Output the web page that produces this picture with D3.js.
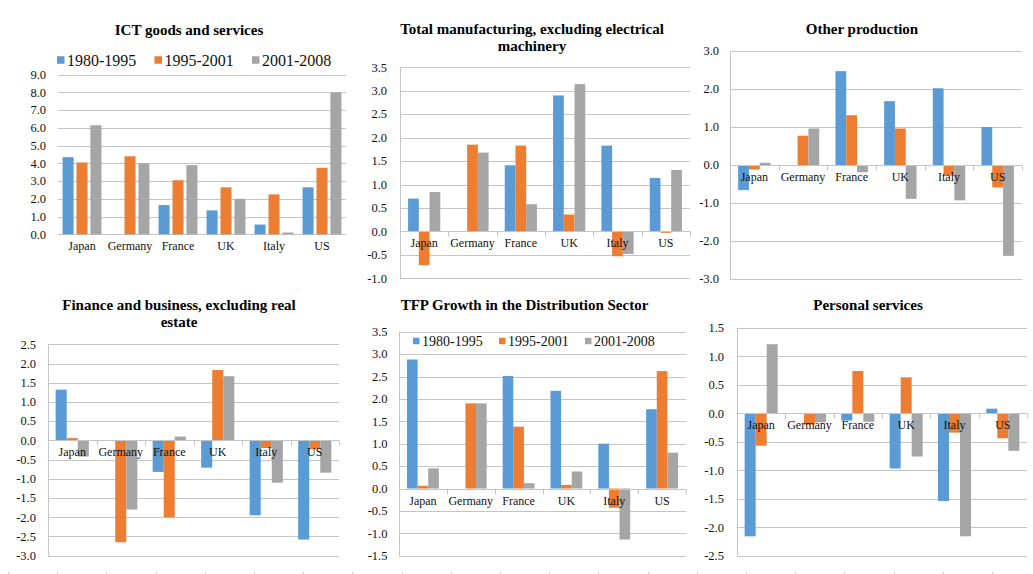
<!DOCTYPE html>
<html>
<head>
<meta charset="utf-8">
<script src="https://cdn.jsdelivr.net/npm/d3@7"></script>
<style>
  html, body { margin: 0; padding: 0; background: #fff; }
  svg { display: block; }
  svg text { font-family: "Liberation Serif", "DejaVu Serif", serif; }
</style>
</head>
<body>
<svg id="chart" width="1033" height="574" font-family="Liberation Serif, serif"></svg>
<script>
// ---- data -------------------------------------------------------------
const countries = ["Japan", "Germany", "France", "UK", "Italy", "US"];
const periods = ["1980-1995", "1995-2001", "2001-2008"];

// ICT goods and services
const ict1980 = [4.35, 0, 1.65, 1.35, 0.55, 2.65];
const ict1995 = [4.05, 4.40, 3.05, 2.65, 2.25, 3.75];
const ict2001 = [6.15, 4.00, 3.90, 2.00, 0.10, 8.00];
const ictTicks = [0, 1, 2, 3, 4, 5, 6, 7, 8, 9];

// Total manufacturing, excluding electrical machinery
const mfg1980 = [0.70, 0, 1.41, 2.90, 1.83, 1.14];
const mfg1995 = [-0.72, 1.85, 1.83, 0.36, -0.53, -0.03];
const mfg2001 = [0.84, 1.68, 0.58, 3.14, -0.48, 1.31];
const mfgTicks = [-1, -0.5, 0, 0.5, 1, 1.5, 2, 2.5, 3, 3.5];

// Other production
const oth1980 = [-0.66, 0, 2.47, 1.68, 2.02, 1.00];
const oth1995 = [-0.12, 0.77, 1.31, 0.96, -0.28, -0.59];
const oth2001 = [0.06, 0.96, -0.19, -0.89, -0.93, -2.39];
const othTicks = [-3, -2, -1, 0, 1, 2, 3];

// Finance and business, excluding real estate
const fin1980 = [1.32, 0, -0.82, -0.71, -1.95, -2.58];
const fin1995 = [0.06, -2.65, -2.00, 1.83, -0.20, -0.23];
const fin2001 = [-0.42, -1.80, 0.10, 1.67, -1.10, -0.84];
const finTicks = [-3, -2.5, -2, -1.5, -1, -0.5, 0, 0.5, 1, 1.5, 2, 2.5];

// TFP growth in the distribution sector
const dist1980 = [2.88, 0, 2.51, 2.18, 1.00, 1.77];
const dist1995 = [0.06, 1.90, 1.38, 0.08, -0.43, 2.62];
const dist2001 = [0.45, 1.90, 0.12, 0.38, -1.14, 0.80];
const distTicks = [-1.5, -1, -0.5, 0, 0.5, 1, 1.5, 2, 2.5, 3, 3.5];

// Personal services
const pers1980 = [-2.16, 0, -0.13, -0.97, -1.54, 0.08];
const pers1995 = [-0.57, -0.20, 0.74, 0.63, -0.34, -0.44];
const pers2001 = [1.21, -0.16, -0.15, -0.76, -2.16, -0.66];
const persTicks = [-2.5, -2, -1.5, -1, -0.5, 0, 0.5, 1, 1.5];

// ---- styling ------------------------------------------------------------
const colors = ["#5B9BD5", "#ED7D31", "#A5A5A5"];
const gridColor = "#c4c4c4";
const textColor = "#111";
const serif = "'Liberation Serif', 'DejaVu Serif', serif";

// ---- panel layout -------------------------------------------------------
const panels = [
  { title: ["ICT goods and services"], tx: 189, ty: [35],
    series: [ict1980, ict1995, ict2001], ticks: ictTicks, domain: [0, 9],
    x0: 58, x1: 346, yTop: 74.7, yBot: 234.3, labelRight: 46,
    barW: 0.23, barStep: 0.29, axis: false,
    legend: { x: 57, y: 60, step: 97.5, font: 16, sq: 7.5, gap: 10 } },
  { title: ["Total manufacturing, excluding electrical", "machinery"], tx: 532, ty: [34, 50.5],
    series: [mfg1980, mfg1995, mfg2001], ticks: mfgTicks, domain: [-1, 3.5],
    x0: 400, x1: 690, yTop: 67.3, yBot: 278.3, labelRight: 387,
    barW: 0.222, barStep: 0.222, axis: true },
  { title: ["Other production"], tx: 862, ty: [34],
    series: [oth1980, oth1995, oth2001], ticks: othTicks, domain: [-3, 3],
    x0: 730, x1: 1022, yTop: 51, yBot: 279, labelRight: 719,
    barW: 0.222, barStep: 0.222, axis: true },
  { title: ["Finance and business, excluding real", "estate"], tx: 179, ty: [310, 326.5],
    series: [fin1980, fin1995, fin2001], ticks: finTicks, domain: [-3, 2.5],
    x0: 48, x1: 339, yTop: 344.3, yBot: 555.7, labelRight: 36,
    barW: 0.228, barStep: 0.228, axis: true },
  { title: ["TFP Growth in the Distribution Sector"], tx: 524.5, ty: [310],
    series: [dist1980, dist1995, dist2001], ticks: distTicks, domain: [-1.5, 3.5],
    x0: 399, x1: 686, yTop: 331.7, yBot: 555.7, labelRight: 387.5,
    barW: 0.222, barStep: 0.222, axis: true,
    legend: { x: 413, y: 341, step: 86, font: 14, sq: 6.5, gap: 9 } },
  { title: ["Personal services"], tx: 868, ty: [310],
    series: [pers1980, pers1995, pers2001], ticks: persTicks, domain: [-2.5, 1.5],
    x0: 737, x1: 1027, yTop: 327.7, yBot: 555.7, labelRight: 724,
    barW: 0.228, barStep: 0.228, axis: true }
];

const svg = d3.select("#chart");
const crisp = v => Math.round(v) + 0.5;
const fmt = v => v.toFixed(1);

function drawPanel(p) {
  const g = svg.append("g").attr("font-family", serif);
  const x = d3.scaleBand().domain(countries).range([p.x0, p.x1]);
  const y = d3.scaleLinear().domain(p.domain).range([p.yBot, p.yTop]);
  const band = x.bandwidth();
  const w = band * p.barW, step = band * p.barStep;

  // horizontal gridlines
  g.append("g").selectAll("line").data(p.ticks).join("line")
    .attr("x1", p.x0).attr("x2", p.x1)
    .attr("y1", d => crisp(y(d))).attr("y2", d => crisp(y(d)))
    .attr("stroke", gridColor).attr("stroke-width", 1);

  // value labels on the left
  g.append("g").selectAll("text").data(p.ticks).join("text")
    .attr("x", p.labelRight).attr("y", d => y(d) + 4.3)
    .attr("text-anchor", "end").attr("font-size", 12.5).attr("fill", textColor)
    .attr("font-family", serif)
    .text(fmt);

  // bars
  p.series.forEach((vals, j) => {
    g.append("g").selectAll("rect").data(vals.map((v, i) => ({ c: countries[i], v })))
      .join("rect")
      .attr("x", d => x(d.c) + band / 2 + (j - 1) * step - w / 2)
      .attr("width", w)
      .attr("y", d => Math.min(y(0), y(d.v)))
      .attr("height", d => Math.abs(y(d.v) - y(0)))
      .attr("fill", colors[j]);
  });

  if (p.axis) {
    const z = crisp(y(0));
    g.append("line").attr("x1", crisp(p.x0)).attr("x2", crisp(p.x0))
      .attr("y1", p.yTop).attr("y2", p.yBot).attr("stroke", gridColor);
    g.append("line").attr("x1", p.x0).attr("x2", p.x1)
      .attr("y1", z).attr("y2", z).attr("stroke", gridColor);
    const bounds = countries.map(c => x(c)).concat([p.x1]);
    g.append("g").selectAll("line").data(bounds).join("line")
      .attr("x1", d => crisp(d)).attr("x2", d => crisp(d))
      .attr("y1", z).attr("y2", z + 5).attr("stroke", gridColor);
  }

  // category labels sit next to the zero line, over the bars
  g.append("g").selectAll("text").data(countries).join("text")
    .attr("x", d => x(d) + band / 2).attr("y", y(0) + 16)
    .attr("text-anchor", "middle").attr("font-size", 12).attr("fill", textColor)
    .attr("font-family", serif)
    .text(d => d);

  // title
  p.title.forEach((t, k) => {
    g.append("text").attr("x", p.tx).attr("y", p.ty[k])
      .attr("text-anchor", "middle").attr("font-size", 15).attr("font-weight", "bold")
      .attr("font-family", serif)
      .attr("fill", "#000").text(t);
  });

  if (p.legend) {
    const L = p.legend;
    const items = g.append("g").selectAll("g").data(periods).join("g")
      .attr("transform", (d, i) => `translate(${L.x + i * L.step},${L.y})`);
    items.append("rect").attr("x", 0).attr("y", -L.sq / 2)
      .attr("width", L.sq).attr("height", L.sq)
      .attr("fill", (d, i) => colors[i]);
    items.append("text").attr("x", L.gap).attr("y", L.font * 0.35)
      .attr("font-size", L.font).attr("fill", textColor)
      .attr("font-family", serif).text(d => d);
  }
}

panels.forEach(drawPanel);

// category tick marks of the row below, cut off by the bottom edge
svg.append("g").selectAll("line").data(d3.range(21)).join("line")
  .attr("x1", i => crisp(8 + i * 49.2)).attr("x2", i => crisp(8 + i * 49.2))
  .attr("y1", 572).attr("y2", 574).attr("stroke", "#d0d0d0");
</script>
</body>
</html>
